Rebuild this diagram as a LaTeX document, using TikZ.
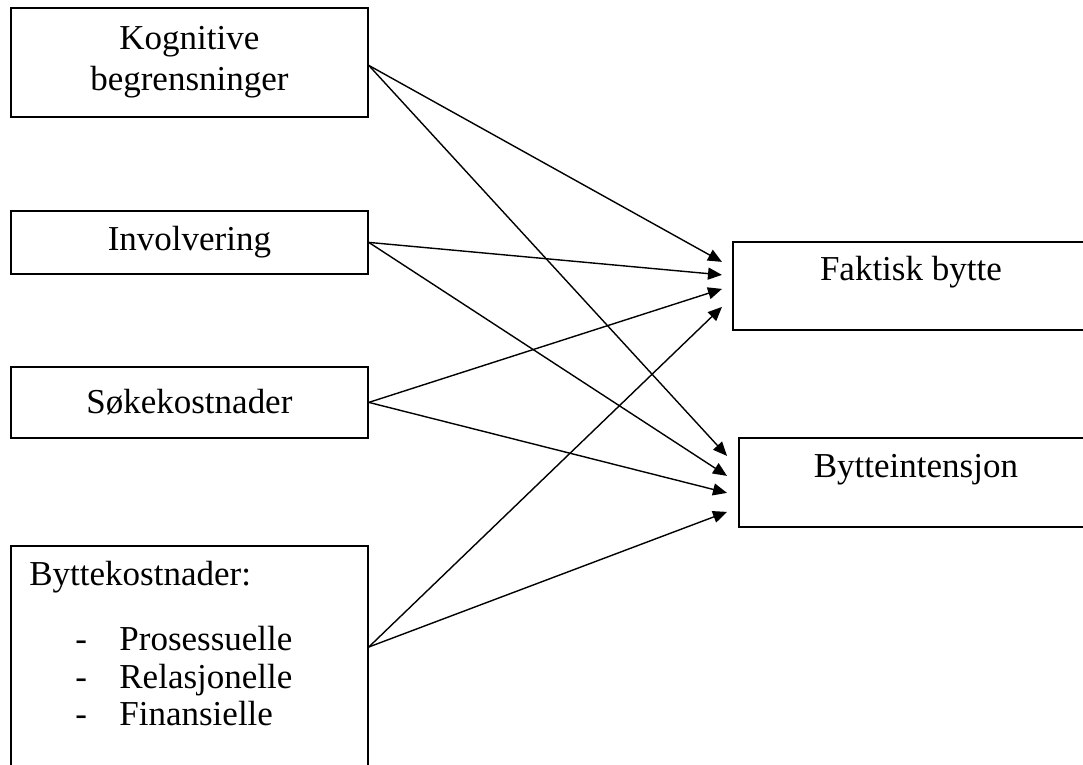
\documentclass[tikz,border=0pt]{standalone}
\usepackage{fontspec}
\setmainfont{Liberation Serif}
\usetikzlibrary{arrows.meta,positioning,calc}
\tikzset{
  box/.style={draw=black, line width=0.9pt, fill=white, align=center, inner sep=0pt,
              font=\fontsize{17.5}{20.5}\selectfont},
  ar/.style={-{Triangle[length=7pt,width=6pt]}, line width=0.7pt, draw=black}
}

\begin{document}
\begin{tikzpicture}[x=0.5pt,y=-0.5pt]
  \useasboundingbox (0,0) rectangle (1083,765);

  % left column
  \node[box, anchor=north west, minimum width=178.5pt, minimum height=54.5pt] (kog) at (10,7)
      {Kognitive\\begrensninger};
  \node[box, anchor=north west, minimum width=178.5pt, minimum height=31.5pt] (inv) at (10,210)
      {Involvering};
  \node[box, anchor=north west, minimum width=178.5pt, minimum height=35.5pt] (sok) at (10,366)
      {Søkekostnader};
  \node[box, anchor=north west, minimum width=178.5pt, minimum height=125pt] (byt) at (10,545) {};
  \node[anchor=north west, inner sep=0pt, align=left, font=\fontsize{17.5}{18.75}\selectfont] (bytlbl) at (29,561)
      {Byttekostnader:\\[13.75pt]
       \hspace*{23pt}\makebox[22pt][l]{-}Prosessuelle\\
       \hspace*{23pt}\makebox[22pt][l]{-}Relasjonelle\\
       \hspace*{23pt}\makebox[22pt][l]{-}Finansielle};

  % right column
  \node[box, anchor=north west, minimum width=178pt, text height=19.5pt, text depth=24.5pt] (fb) at (732,241)
      {Faktisk bytte};
  \node[box, anchor=north west, minimum width=177pt, text height=20pt, text depth=24.5pt] (bi) at (738,437)
      {Bytteintensjon};

  \coordinate (kogout) at ($(kog.east)+(0,3)$);
  \coordinate (bytout) at ($(byt.north east)+(0,102)$);

  \foreach \src/\a/\b in {kogout/-24/-26.5, inv.east/-11/-6.5, sok.east/3/10.5, bytout/21/29.5} {
    \draw[ar] (\src) -- ($(fb.west)+(-10,\a)$);
    \draw[ar] (\src) -- ($(bi.west)+(-11,\b)$);
  }
\end{tikzpicture}
\end{document}
